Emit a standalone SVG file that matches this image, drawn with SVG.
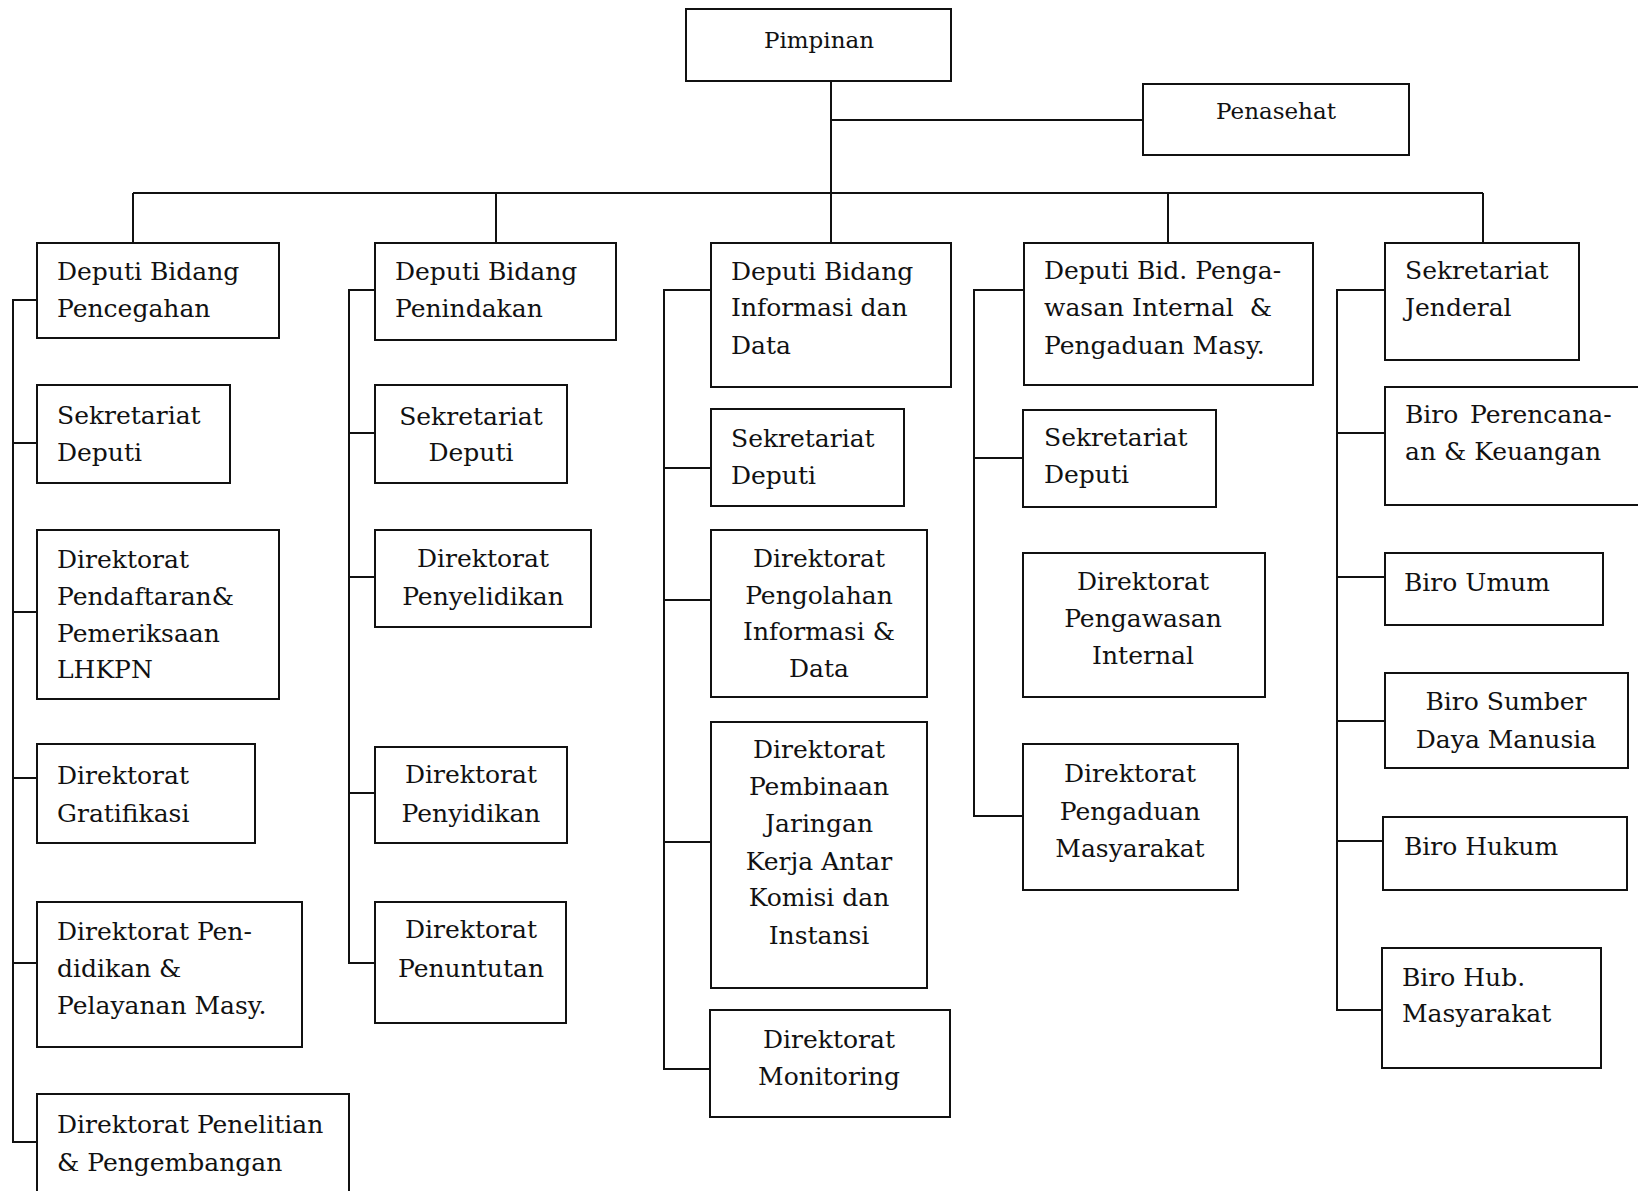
<svg xmlns="http://www.w3.org/2000/svg" width="1638" height="1191" viewBox="0 0 1638 1191">
<style>
.box{fill:#fff;stroke:#111;stroke-width:2}
.ln{fill:none;stroke:#111;stroke-width:2}
text{font-family:"DejaVu Serif","Liberation Serif",serif;font-size:25px;fill:#111}
.c{text-anchor:middle}
.s{font-size:23px}
</style>
<rect width="1638" height="1191" fill="#fff"/>
<g id="connectors" class="ln">
<path d="M831 81V243M831 120H1143M133 193H1483M133 193V243M496 193V243M1168 193V243M1483 193V243"/>
<path d="M37 300H13V1142H37M13 443H37M13 612H37M13 778H37M13 963H37"/>
<path d="M375 290H349V963H375M349 433H375M349 577H375M349 793H375"/>
<path d="M711 290H664V1069H710M664 468H711M664 600H711M664 842H711"/>
<path d="M1024 290H974V816H1023M974 458H1023"/>
<path d="M1385 290H1337V1010H1382M1337 433H1385M1337 577H1385M1337 721H1385M1337 841H1383"/>
</g>
<g id="pimpinan"><rect class="box" x="686" y="9" width="265" height="72"/><text class="c s" x="819" y="48">Pimpinan</text></g>
<g id="penasehat"><rect class="box" x="1143" y="84" width="266" height="71"/><text class="c s" x="1276" y="119">Penasehat</text></g>

<g id="dep-pencegahan"><rect class="box" x="37" y="243" width="242" height="95"/><text x="57" y="280">Deputi Bidang</text><text x="57" y="317">Pencegahan</text></g>
<g id="sek-dep-1"><rect class="box" x="37" y="385" width="193" height="98"/><text x="57" y="424">Sekretariat</text><text x="57" y="461">Deputi</text></g>
<g id="dir-lhkpn"><rect class="box" x="37" y="530" width="242" height="169"/><text x="57" y="568">Direktorat</text><text x="57" y="605">Pendaftaran&amp;</text><text x="57" y="642">Pemeriksaan</text><text x="57" y="678">LHKPN</text></g>
<g id="dir-gratifikasi"><rect class="box" x="37" y="744" width="218" height="99"/><text x="57" y="784">Direktorat</text><text x="57" y="822">Gratifikasi</text></g>
<g id="dir-pendidikan"><rect class="box" x="37" y="902" width="265" height="145"/><text x="57" y="940">Direktorat Pen-</text><text x="57" y="977">didikan &amp;</text><text x="57" y="1014">Pelayanan Masy.</text></g>
<g id="dir-litbang"><rect class="box" x="37" y="1094" width="312" height="110"/><text x="57" y="1133">Direktorat Penelitian</text><text x="57" y="1171">&amp; Pengembangan</text></g>

<g id="dep-penindakan"><rect class="box" x="375" y="243" width="241" height="97"/><text x="395" y="280">Deputi Bidang</text><text x="395" y="317">Penindakan</text></g>
<g id="sek-dep-2"><rect class="box" x="375" y="385" width="192" height="98"/><text class="c" x="471" y="425">Sekretariat</text><text class="c" x="471" y="461">Deputi</text></g>
<g id="dir-penyelidikan"><rect class="box" x="375" y="530" width="216" height="97"/><text class="c" x="483" y="567">Direktorat</text><text class="c" x="483" y="605">Penyelidikan</text></g>
<g id="dir-penyidikan"><rect class="box" x="375" y="747" width="192" height="96"/><text class="c" x="471" y="783">Direktorat</text><text class="c" x="471" y="822">Penyidikan</text></g>
<g id="dir-penuntutan"><rect class="box" x="375" y="902" width="191" height="121"/><text class="c" x="471" y="938">Direktorat</text><text class="c" x="471" y="977">Penuntutan</text></g>

<g id="dep-informasi"><rect class="box" x="711" y="243" width="240" height="144"/><text x="731" y="280">Deputi Bidang</text><text x="731" y="316">Informasi dan</text><text x="731" y="354">Data</text></g>
<g id="sek-dep-3"><rect class="box" x="711" y="409" width="193" height="97"/><text x="731" y="447">Sekretariat</text><text x="731" y="484">Deputi</text></g>
<g id="dir-pengolahan"><rect class="box" x="711" y="530" width="216" height="167"/><text class="c" x="819" y="567">Direktorat</text><text class="c" x="819" y="604">Pengolahan</text><text class="c" x="819" y="640">Informasi &amp;</text><text class="c" x="819" y="677">Data</text></g>
<g id="dir-pembinaan"><rect class="box" x="711" y="722" width="216" height="266"/><text class="c" x="819" y="758">Direktorat</text><text class="c" x="819" y="795">Pembinaan</text><text class="c" x="819" y="832">Jaringan</text><text class="c" x="819" y="870">Kerja Antar</text><text class="c" x="819" y="906">Komisi dan</text><text class="c" x="819" y="944">Instansi</text></g>
<g id="dir-monitoring"><rect class="box" x="710" y="1010" width="240" height="107"/><text class="c" x="829" y="1048">Direktorat</text><text class="c" x="829" y="1085">Monitoring</text></g>

<g id="dep-pengawasan"><rect class="box" x="1024" y="243" width="289" height="142"/><text x="1044" y="279">Deputi Bid. Penga-</text><text x="1044" y="316" xml:space="preserve">wasan Internal  &amp;</text><text x="1044" y="354">Pengaduan Masy.</text></g>
<g id="sek-dep-4"><rect class="box" x="1023" y="410" width="193" height="97"/><text x="1044" y="446">Sekretariat</text><text x="1044" y="483">Deputi</text></g>
<g id="dir-pengawasan-internal"><rect class="box" x="1023" y="553" width="242" height="144"/><text class="c" x="1143" y="590">Direktorat</text><text class="c" x="1143" y="627">Pengawasan</text><text class="c" x="1143" y="664">Internal</text></g>
<g id="dir-pengaduan"><rect class="box" x="1023" y="744" width="215" height="146"/><text class="c" x="1130" y="782">Direktorat</text><text class="c" x="1130" y="820">Pengaduan</text><text class="c" x="1130" y="857">Masyarakat</text></g>

<g id="sekjen"><rect class="box" x="1385" y="243" width="194" height="117"/><text x="1405" y="279">Sekretariat</text><text x="1405" y="316">Jenderal</text></g>
<g id="biro-perencanaan"><rect class="box" x="1385" y="387" width="260" height="118"/><text x="1405" y="423">Biro</text><text x="1470" y="423">Perencana-</text><text x="1405" y="460">an &amp; Keuangan</text></g>
<g id="biro-umum"><rect class="box" x="1385" y="553" width="218" height="72"/><text x="1404" y="591">Biro Umum</text></g>
<g id="biro-sdm"><rect class="box" x="1385" y="673" width="243" height="95"/><text class="c" x="1506" y="710">Biro Sumber</text><text class="c" x="1506" y="748">Daya Manusia</text></g>
<g id="biro-hukum"><rect class="box" x="1383" y="817" width="244" height="73"/><text x="1404" y="855">Biro Hukum</text></g>
<g id="biro-humas"><rect class="box" x="1382" y="948" width="219" height="120"/><text x="1402" y="986">Biro Hub.</text><text x="1402" y="1022">Masyarakat</text></g>
</svg>
